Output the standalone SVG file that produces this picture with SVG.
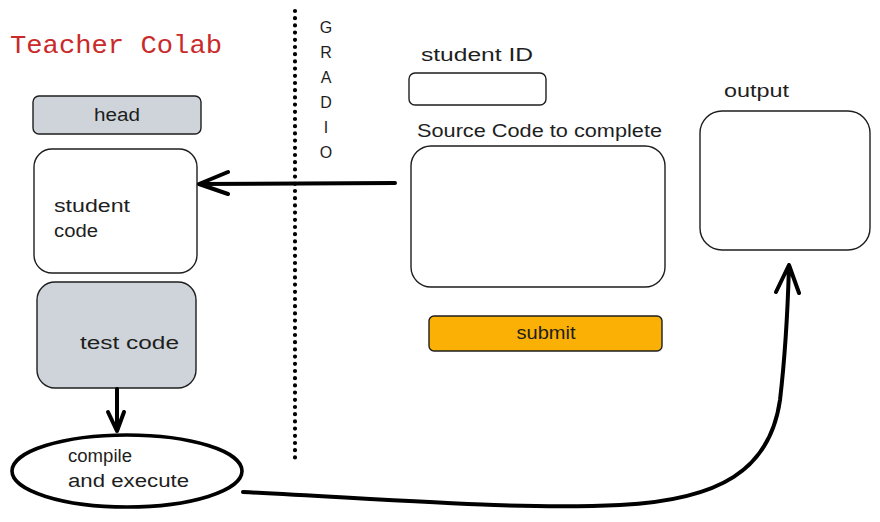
<svg xmlns="http://www.w3.org/2000/svg" width="880" height="522" viewBox="0 0 880 522">
<style>
.t{font-family:"Liberation Sans","DejaVu Sans",sans-serif;font-size:18px;fill:#1e1e1e}
.box{stroke:#1e1e1e;stroke-width:1.4;fill:#ffffff}
.gray{fill:#ced4da}
.conn{fill:none;stroke:#000;stroke-width:4;stroke-linecap:round;stroke-linejoin:round}
</style>
<rect width="880" height="522" fill="#ffffff"/>
<text x="10" y="53" font-family="'Liberation Mono','DejaVu Sans Mono',monospace" font-size="26" fill="#c92a2a" textLength="212" lengthAdjust="spacingAndGlyphs">Teacher Colab</text>

<g id="divider">
<line x1="295" y1="11" x2="295" y2="460" stroke="#000" stroke-width="4.2" stroke-linecap="round" stroke-dasharray="0 7.2"/>
</g>
<g id="gradio-label" class="t" font-size="16" text-anchor="middle">
<text x="326" y="33" class="t" style="font-size:16px">G</text>
<text x="326" y="58" class="t" style="font-size:16px">R</text>
<text x="326" y="83" class="t" style="font-size:16px">A</text>
<text x="326" y="108" class="t" style="font-size:16px">D</text>
<text x="326" y="133" class="t" style="font-size:16px">I</text>
<text x="326" y="158" class="t" style="font-size:16px">O</text>
</g>

<g id="head">
<rect x="33" y="96" width="168" height="38" rx="6" class="box gray"/>
<text x="117" y="121" class="t" text-anchor="middle" textLength="46" lengthAdjust="spacingAndGlyphs">head</text>
</g>
<g id="student-code">
<rect x="34" y="149" width="163" height="124" rx="18" class="box"/>
<text x="54" y="212" class="t" textLength="76" lengthAdjust="spacingAndGlyphs">student</text>
<text x="54" y="237" class="t" textLength="44" lengthAdjust="spacingAndGlyphs">code</text>
</g>
<g id="test-code">
<rect x="37" y="282" width="159" height="106" rx="18" class="box gray"/>
<text x="80" y="349" class="t" textLength="99" lengthAdjust="spacingAndGlyphs">test code</text>
</g>
<g id="compile">
<ellipse cx="127" cy="471" rx="115" ry="36" fill="#ffffff" stroke="#000" stroke-width="3.6"/>
<text x="68" y="462" class="t" textLength="64" lengthAdjust="spacingAndGlyphs">compile</text>
<text x="68" y="487" class="t" textLength="121" lengthAdjust="spacingAndGlyphs">and execute</text>
</g>

<g id="student-id">
<text x="421" y="61" class="t" textLength="112" lengthAdjust="spacingAndGlyphs">student ID</text>
<rect x="409" y="73" width="137" height="32" rx="6" class="box"/>
</g>
<g id="source-code">
<text x="417" y="137" class="t" textLength="245" lengthAdjust="spacingAndGlyphs">Source Code to complete</text>
<rect x="411" y="146" width="254" height="141" rx="20" class="box"/>
</g>
<g id="submit">
<rect x="429" y="316" width="233" height="35" rx="5" fill="#fab005" stroke="#1e1e1e" stroke-width="1.4"/>
<text x="546" y="339" class="t" text-anchor="middle" textLength="59" lengthAdjust="spacingAndGlyphs">submit</text>
</g>
<g id="output">
<text x="724" y="97" class="t" textLength="65" lengthAdjust="spacingAndGlyphs">output</text>
<rect x="700" y="111" width="170" height="139" rx="22" class="box"/>
</g>

<g id="connectors">
<path class="conn" d="M395,183 L199,184 M228,172 L199,184 L228,194"/>
<path class="conn" d="M117,389 L117,431 M108,412 L117,431 L124,412"/>
<path class="conn" d="M243,492 C 400,500 520,510 620,505 C 720,500 770,470 780,400 C 787,340 788,300 789,265 M776,292 L789,265 L799,293"/>
</g>
</svg>
